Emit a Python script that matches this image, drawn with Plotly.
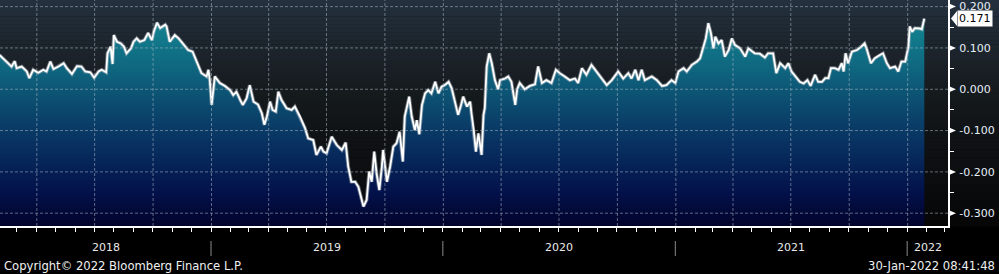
import plotly.graph_objects as go
import pandas as pd

# ---------------- data ----------------
dates_2018 = ["2018-02-02", "2018-02-08", "2018-02-13", "2018-02-21", "2018-02-26", "2018-03-01",
              "2018-03-09", "2018-03-17", "2018-03-21", "2018-03-27", "2018-04-04", "2018-04-12",
              "2018-04-17", "2018-04-23", "2018-04-28", "2018-05-06", "2018-05-14", "2018-05-19",
              "2018-05-27", "2018-06-04", "2018-06-11", "2018-06-17", "2018-06-25", "2018-07-01",
              "2018-07-08", "2018-07-13", "2018-07-20", "2018-07-22", "2018-07-27", "2018-07-30",
              "2018-08-01", "2018-08-06", "2018-08-12", "2018-08-17", "2018-08-21", "2018-08-28",
              "2018-09-01", "2018-09-06", "2018-09-11", "2018-09-18", "2018-09-24", "2018-09-30",
              "2018-10-03", "2018-10-08", "2018-10-13", "2018-10-21", "2018-10-23", "2018-10-28",
              "2018-11-05", "2018-11-11", "2018-11-18", "2018-11-26", "2018-12-03", "2018-12-10",
              "2018-12-17", "2018-12-25", "2018-12-28", "2018-12-30"]
values_2018 = [0.083, 0.075, 0.067, 0.055, 0.068, 0.051,
               0.055, 0.043, 0.027, 0.047, 0.040, 0.047,
               0.043, 0.067, 0.049, 0.055, 0.063, 0.051,
               0.037, 0.056, 0.055, 0.043, 0.041, 0.028,
               0.043, 0.047, 0.041, 0.087, 0.103, 0.061,
               0.131, 0.115, 0.111, 0.103, 0.087, 0.099,
               0.115, 0.123, 0.115, 0.119, 0.136, 0.119,
               0.140, 0.161, 0.148, 0.156, 0.152, 0.115,
               0.131, 0.123, 0.111, 0.095, 0.091, 0.067,
               0.039, 0.031, 0.047, 0.023]

dates_2019 = ["2019-01-02", "2019-01-07", "2019-01-15", "2019-01-23", "2019-01-31", "2019-02-05",
              "2019-02-10", "2019-02-16", "2019-02-20", "2019-02-26", "2019-03-03", "2019-03-09",
              "2019-03-16", "2019-03-22", "2019-03-26", "2019-03-30", "2019-04-04", "2019-04-08",
              "2019-04-13", "2019-04-17", "2019-04-22", "2019-04-30", "2019-05-08", "2019-05-13",
              "2019-05-21", "2019-05-29", "2019-06-03", "2019-06-11", "2019-06-16", "2019-06-23",
              "2019-06-27", "2019-07-02", "2019-07-10", "2019-07-18", "2019-07-26", "2019-08-01",
              "2019-08-05", "2019-08-10", "2019-08-16", "2019-08-21", "2019-08-25", "2019-08-29",
              "2019-09-03", "2019-09-07", "2019-09-11", "2019-09-15", "2019-09-19", "2019-09-23",
              "2019-09-27", "2019-09-29", "2019-10-05", "2019-10-10", "2019-10-15", "2019-10-20",
              "2019-10-25", "2019-10-30", "2019-11-02", "2019-11-05", "2019-11-09", "2019-11-13",
              "2019-11-18", "2019-11-21", "2019-11-25", "2019-11-29", "2019-12-04", "2019-12-09",
              "2019-12-14", "2019-12-20", "2019-12-25", "2019-12-30"]
values_2019 = [-0.038, 0.031, 0.015, 0.008, -0.002, -0.014,
               -0.006, -0.026, -0.038, -0.022, 0.010, -0.030,
               -0.037, -0.058, -0.086, -0.066, -0.030, -0.050,
               -0.054, -0.006, -0.026, -0.046, -0.050, -0.042,
               -0.066, -0.094, -0.119, -0.123, -0.159, -0.139,
               -0.151, -0.155, -0.115, -0.135, -0.147, -0.129,
               -0.187, -0.224, -0.224, -0.236, -0.260, -0.284,
               -0.268, -0.199, -0.224, -0.151, -0.207, -0.244,
               -0.187, -0.147, -0.224, -0.187, -0.139, -0.131,
               -0.103, -0.175, -0.066, -0.042, -0.018, -0.066,
               -0.099, -0.075, -0.109, -0.039, -0.010, -0.002,
               -0.010, 0.018, -0.010, 0.006]

dates_2020 = ["2020-01-04", "2020-01-10", "2020-01-15", "2020-01-20", "2020-01-25", "2020-01-29",
              "2020-02-02", "2020-02-08", "2020-02-13", "2020-02-15", "2020-02-19", "2020-02-22",
              "2020-02-26", "2020-03-02", "2020-03-05", "2020-03-07", "2020-03-10", "2020-03-14",
              "2020-03-18", "2020-03-23", "2020-03-28", "2020-03-31", "2020-04-08", "2020-04-13",
              "2020-04-18", "2020-04-24", "2020-04-27", "2020-05-01", "2020-05-09", "2020-05-17",
              "2020-05-25", "2020-05-30", "2020-06-05", "2020-06-12", "2020-06-20", "2020-06-27",
              "2020-07-03", "2020-07-11", "2020-07-19", "2020-07-27", "2020-08-01", "2020-08-07",
              "2020-08-14", "2020-08-22", "2020-08-30", "2020-09-07", "2020-09-15", "2020-09-23",
              "2020-10-03", "2020-10-11", "2020-10-19", "2020-10-24", "2020-10-30", "2020-11-04",
              "2020-11-09", "2020-11-14", "2020-11-25", "2020-12-03", "2020-12-11", "2020-12-18",
              "2020-12-26"]
values_2020 = [0.010, 0.018, 0.002, -0.030, -0.062, -0.042,
               -0.018, -0.042, -0.030, -0.058, -0.103, -0.151,
               -0.107, -0.159, -0.062, -0.046, 0.055, 0.087,
               0.063, 0.022, 0.000, 0.022, 0.026, 0.031,
               0.018, -0.038, 0.000, 0.015, 0.000, 0.008,
               0.012, 0.055, 0.015, 0.022, 0.015, 0.047,
               0.039, 0.031, 0.022, 0.026, 0.015, 0.051,
               0.035, 0.059, 0.043, 0.026, 0.010, 0.022,
               0.043, 0.026, 0.039, 0.026, 0.047, 0.022,
               0.047, 0.022, 0.031, 0.022, 0.008, 0.010,
               0.022]

dates_2021 = ["2021-01-01", "2021-01-06", "2021-01-14", "2021-01-19", "2021-01-27", "2021-02-04",
              "2021-02-09", "2021-02-14", "2021-02-18", "2021-02-22", "2021-02-26", "2021-03-02",
              "2021-03-05", "2021-03-10", "2021-03-15", "2021-03-20", "2021-03-26", "2021-03-31",
              "2021-04-05", "2021-04-13", "2021-04-21", "2021-04-26", "2021-04-29", "2021-05-06",
              "2021-05-14", "2021-05-22", "2021-05-27", "2021-06-04", "2021-06-09", "2021-06-15",
              "2021-06-23", "2021-06-28", "2021-07-03", "2021-07-11", "2021-07-16", "2021-07-22",
              "2021-07-28", "2021-08-02", "2021-08-09", "2021-08-14", "2021-08-20", "2021-08-25",
              "2021-08-30", "2021-09-03", "2021-09-09", "2021-09-15", "2021-09-20", "2021-09-23",
              "2021-09-26", "2021-09-30", "2021-10-06", "2021-10-14", "2021-10-21", "2021-10-26",
              "2021-10-29", "2021-11-05", "2021-11-11", "2021-11-19", "2021-11-24", "2021-11-30",
              "2021-12-05", "2021-12-13", "2021-12-18", "2021-12-23", "2021-12-29"]
values_2021 = [0.015, 0.043, 0.051, 0.043, 0.059, 0.067,
               0.075, 0.103, 0.123, 0.160, 0.136, 0.099,
               0.127, 0.111, 0.119, 0.079, 0.095, 0.123,
               0.107, 0.099, 0.079, 0.099, 0.095, 0.087,
               0.086, 0.077, 0.087, 0.087, 0.039, 0.063,
               0.051, 0.063, 0.043, 0.027, 0.018, 0.014,
               0.022, 0.008, 0.035, 0.018, 0.018, 0.027,
               0.027, 0.051, 0.051, 0.047, 0.063, 0.043,
               0.087, 0.063, 0.091, 0.095, 0.103, 0.111,
               0.099, 0.063, 0.075, 0.083, 0.087, 0.063,
               0.051, 0.055, 0.043, 0.067, 0.067]

dates_2022 = ["2022-01-03", "2022-01-05", "2022-01-09", "2022-01-13", "2022-01-21", "2022-01-24",
              "2022-01-28"]
values_2022 = [0.103, 0.152, 0.139, 0.148, 0.147, 0.145, 0.171]

y_tick_values = [0.2, 0.1, 0.0, -0.1, -0.2, -0.3]
y_minor_values = [0.15, 0.05, -0.05, -0.15, -0.25]
year_labels = ["2018", "2019", "2020", "2021", "2022"]
copyright_text = "Copyright\u00a9 2022 Bloomberg Finance L.P."
timestamp_text = "30-Jan-2022 08:41:48"

dates = dates_2018 + dates_2019 + dates_2020 + dates_2021 + dates_2022
values = values_2018 + values_2019 + values_2020 + values_2021 + values_2022

# ---------------- layout constants ----------------
W, H = 999, 274
ML, MR, MT, MB = 0, 51, 0, 48
PW, PH = W - ML - MR, H - MT - MB
x_start, x_end = pd.Timestamp("2018-02-02 19:00"), pd.Timestamp("2022-03-06 07:00")
y_min, y_max = -0.331, 0.216
FONT = "DejaVu Sans"
px_to_y = (y_max - y_min) / PH

fig = go.Figure()

# baseline for the area fill (bottom of the plot)
fig.add_trace(go.Scatter(x=[dates[0], dates[-1]], y=[y_min, y_min], mode="lines",
                         line=dict(width=0, color="rgba(0,0,0,0)"), hoverinfo="skip",
                         showlegend=False))
fig.add_trace(go.Scatter(
    x=dates, y=values, mode="lines", fill="tonexty",
    fillgradient=dict(type="vertical", start=y_min, stop=y_max,
                      colorscale=[[0.0, "#01032b"], [0.148, "#03114a"], [0.331, "#072c5e"],
                                  [0.514, "#0b476d"], [0.697, "#0f667f"], [0.879, "#12808f"],
                                  [1.0, "#168b99"]]),
    line=dict(color="rgba(175,185,195,0.55)", width=3.6), hoverinfo="skip", showlegend=False))
fig.add_trace(go.Scatter(x=dates, y=values, mode="lines",
                         line=dict(color="white", width=1.8), showlegend=False))

shapes = []
# background vertical gradient (plot area + right axis strip)
stops = [(0.0, (36, 49, 62)), (0.2, (29, 37, 45)), (0.45, (20, 24, 27)),
         (0.75, (12, 14, 16)), (1.0, (6, 6, 7))]
N = 56
for i in range(N):
    t0, t1 = i / N, (i + 1) / N
    tm = (t0 + t1) / 2
    for (a, ca), (b, cb) in zip(stops[:-1], stops[1:]):
        if a <= tm <= b:
            f = (tm - a) / (b - a)
            c = tuple(round(ca[k] + (cb[k] - ca[k]) * f) for k in range(3))
            break
    shapes.append(dict(type="rect", xref="paper", yref="paper", x0=0, x1=W / PW,
                       y0=1 - t1 - 0.002, y1=1 - t0, fillcolor="rgb(%d,%d,%d)" % c,
                       line=dict(width=0), layer="below"))

grid_color = "rgba(170,182,195,0.55)"
for v in y_tick_values:
    shapes.append(dict(type="line", xref="paper", yref="y", x0=0, x1=1, y0=v, y1=v,
                       line=dict(color=grid_color, width=1, dash="3px,2px"), layer="above"))
    # white tick arrowhead on the right axis
    shapes.append(dict(type="path", xref="paper", yref="y",
                       path=(f"M {1 + 1 / PW} {v - 3 * px_to_y} L {1 + 1 / PW} {v + 3 * px_to_y} "
                             f"L {1 + 8 / PW} {v} Z"),
                       fillcolor="white", line=dict(width=0), layer="above"))
for q in pd.date_range(x_start, x_end, freq="QS"):
    shapes.append(dict(type="line", xref="x", yref="paper", x0=q, x1=q, y0=0, y1=1,
                       line=dict(color=grid_color, width=1, dash="3px,2px"), layer="above"))

# year separators and labels under the axis
annotations = []
year_starts = [pd.Timestamp(y + "-01-01") for y in year_labels]
for k, y in enumerate(year_labels):
    a = max(x_start, year_starts[k])
    b = min(x_end, year_starts[k + 1]) if k + 1 < len(year_starts) else x_end
    mid = a + (b - a) / 2
    annotations.append(dict(x=mid, xref="x", y=-22 / PH, yref="paper", text=y,
                            showarrow=False, xanchor="center", yanchor="middle",
                            font=dict(family=FONT, size=11, color="#e8e8e8")))
    if k > 0:
        shapes.append(dict(type="line", xref="x", yref="paper", x0=year_starts[k],
                           x1=year_starts[k], y0=-15 / PH, y1=-30 / PH,
                           line=dict(color="#8a8a8a", width=1)))

annotations.append(dict(x=2 / PW, xref="paper", y=-40 / PH, yref="paper", text=copyright_text,
                        showarrow=False, xanchor="left", yanchor="middle",
                        font=dict(family=FONT, size=11.6, color="#f0f0f0")))
annotations.append(dict(x=(W - 2) / PW, xref="paper", y=-40 / PH, yref="paper",
                        text=timestamp_text, showarrow=False, xanchor="right", yanchor="middle",
                        font=dict(family=FONT, size=11.6, color="#f0f0f0")))

# last value tag
last_val = values[-1]
tip_x, box_x = 1 + 3 / PW, 1 + 9 / PW
half_h = 7.5 * px_to_y
shapes.append(dict(type="path", xref="paper", yref="y",
                   path=f"M {tip_x} {last_val} L {box_x} {last_val + half_h} L {box_x} {last_val - half_h} Z",
                   fillcolor="white", line=dict(width=0)))
annotations.append(dict(x=box_x - 0.5 / PW, xref="paper", y=last_val, yref="y",
                        text=f"{last_val:.3f}", showarrow=False, xanchor="left",
                        yanchor="middle", bgcolor="white", borderpad=1,
                        font=dict(family=FONT, size=11, color="black")))

tick_text = [f"{v:.3f}" for v in y_tick_values]

fig.update_layout(
    width=W, height=H, margin=dict(l=ML, r=MR, t=MT, b=MB),
    paper_bgcolor="black", plot_bgcolor="rgba(0,0,0,0)",
    showlegend=False, shapes=shapes, annotations=annotations,
    font=dict(family=FONT, size=11, color="#e6eef8"),
    xaxis=dict(type="date", range=[x_start, x_end], showgrid=False, zeroline=False,
               showline=True, linecolor="white", linewidth=2,
               ticks="outside", ticklen=4, tickwidth=1, tickcolor="white",
               dtick="M1", tick0="2018-01-01", showticklabels=False),
    yaxis=dict(side="right", range=[y_min, y_max], showgrid=False, zeroline=False,
               showline=True, linecolor="white", linewidth=2,
               tickmode="array", tickvals=y_tick_values, ticktext=tick_text,
               ticks="", ticklabelstandoff=7,
               tickfont=dict(family=FONT, size=11, color="#e6eef8"),
               minor=dict(tickmode="array", tickvals=y_minor_values, ticks="outside",
                          ticklen=4, tickwidth=1, tickcolor="white")),
)

fig.write_html("out.html")
